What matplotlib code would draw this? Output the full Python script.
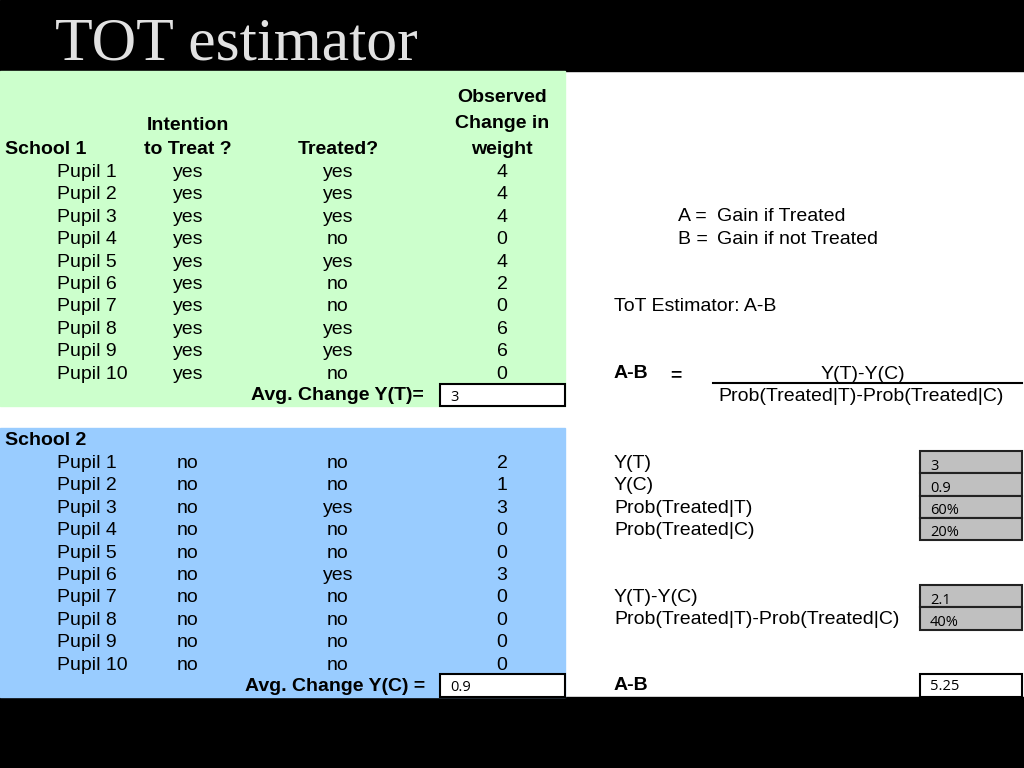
import matplotlib
matplotlib.use("Agg")
import matplotlib.pyplot as plt
from matplotlib.patches import Rectangle

# ---- data ----
school1_pupils = [f"Pupil {i}" for i in range(1, 11)]
school1_itt = ["yes"] * 10
school1_treated = ["yes", "yes", "yes", "no", "yes", "no", "no", "yes", "yes", "no"]
school1_weight = [4, 4, 4, 0, 4, 2, 0, 6, 6, 0]

school2_pupils = [f"Pupil {i}" for i in range(1, 11)]
school2_itt = ["no"] * 10
school2_treated = ["no", "no", "yes", "no", "no", "yes", "no", "no", "no", "no"]
school2_weight = [2, 1, 3, 0, 0, 3, 0, 0, 0, 0]

avg_yt = "3"
avg_yc = "0.9"
summary_labels = ["Y(T)", "Y(C)", "Prob(Treated|T)", "Prob(Treated|C)"]
summary_values = ["3", "0.9", "60%", "20%"]
diff_labels = ["Y(T)-Y(C)", "Prob(Treated|T)-Prob(Treated|C)"]
diff_values = ["2.1", "40%"]
ab_value = "5.25"

# ---- figure ----
fig = plt.figure(figsize=(10.24, 7.68), dpi=100)
ax = fig.add_axes([0, 0, 1, 1])
ax.set_xlim(0, 1024)
ax.set_ylim(768, 0)
ax.axis("off")

SANS = "Liberation Sans"
FS = 14
VAL = "Open Sans"
VFS = 10.5
DY = 1.5

# bands
ax.add_patch(Rectangle((0, 0), 1024, 71, color="black", zorder=0))
ax.add_patch(Rectangle((0, 697), 1024, 71, color="black", zorder=0))
ax.add_patch(Rectangle((0, 71), 565, 335, color="#CCFFCC", zorder=0))
ax.add_patch(Rectangle((0, 428), 565, 269, color="#99CCFF", zorder=0))

ax.text(55, 60, "TOT estimator", family="Liberation Serif", fontsize=44.5,
        color="#E2E2E2", va="baseline", ha="left")

def t(x, y, s, ha="left", bold=False, fs=FS, family=SANS):
    ax.text(x, y + DY, s, ha=ha, va="center", fontsize=fs, family=family,
            fontweight="bold" if bold else "normal", color="black", zorder=3)

# headers
t(502, 96, "Observed", ha="center", bold=True)
t(188, 124, "Intention", ha="center", bold=True)
t(502, 122, "Change in", ha="center", bold=True)
t(5, 148, "School 1", bold=True)
t(188, 148, "to Treat ?", ha="center", bold=True)
t(338, 148, "Treated?", ha="center", bold=True)
t(502, 148, "weight", ha="center", bold=True)

row_h = 22.4
for i, (p, a, b, w) in enumerate(zip(school1_pupils, school1_itt, school1_treated, school1_weight)):
    y = 171 + i * row_h
    t(57, y, p)
    t(188, y, a, ha="center")
    t(338, y, b, ha="center")
    t(502, y, str(w), ha="center")

t(424, 394, "Avg. Change Y(T)=", ha="right", bold=True)
ax.add_patch(Rectangle((440, 384), 125, 22, facecolor="white", edgecolor="black", lw=1.5, zorder=2))
t(450, 396, avg_yt, fs=VFS, family=VAL)

t(5, 439, "School 2", bold=True)
for i, (p, a, b, w) in enumerate(zip(school2_pupils, school2_itt, school2_treated, school2_weight)):
    y = 462 + i * row_h
    t(57, y, p)
    t(188, y, a, ha="center")
    t(338, y, b, ha="center")
    t(502, y, str(w), ha="center")

t(425, 685, "Avg. Change Y(C) =", ha="right", bold=True)
ax.add_patch(Rectangle((440, 674), 125, 23, facecolor="white", edgecolor="black", lw=1.5, zorder=2))
t(450, 686, avg_yc, fs=VFS, family=VAL)

# right side
t(678, 215, "A =")
t(717, 215, "Gain if Treated")
t(678, 238, "B =")
t(717, 238, "Gain if not Treated")
t(614, 305, "ToT Estimator: A-B")
t(614, 372, "A-B", bold=True)
t(670, 374, "=", bold=True)
t(863, 373, "Y(T)-Y(C)", ha="center")
ax.plot([713, 1022], [383, 383], color="black", lw=1.5)
t(861, 395, "Prob(Treated|T)-Prob(Treated|C)", ha="center")

box_y0 = 451
box_h = 22.3
for i, (lab, v) in enumerate(zip(summary_labels, summary_values)):
    y = 462 + i * box_h
    t(614, y, lab)
    ax.add_patch(Rectangle((920, box_y0 + i * box_h), 102, box_h,
                           facecolor="#C0C0C0", edgecolor="#222222", lw=1.5, zorder=2))
    t(930, box_y0 + i * box_h + 13.5, v, fs=VFS, family=VAL)

for i, (lab, v) in enumerate(zip(diff_labels, diff_values)):
    y = 596 + i * box_h
    t(614, y, lab)
    ax.add_patch(Rectangle((920, 585 + i * box_h), 102, box_h,
                           facecolor="#C0C0C0", edgecolor="#222222", lw=1.5, zorder=2))
    t(930, 585 + i * box_h + 14, v, fs=VFS, family=VAL)

t(614, 684, "A-B", bold=True)
ax.add_patch(Rectangle((920, 674), 102, 23, facecolor="white", edgecolor="black", lw=1.5, zorder=2))
t(930, 685, ab_value, fs=VFS, family=VAL)

fig.savefig("out.png", dpi=100)
